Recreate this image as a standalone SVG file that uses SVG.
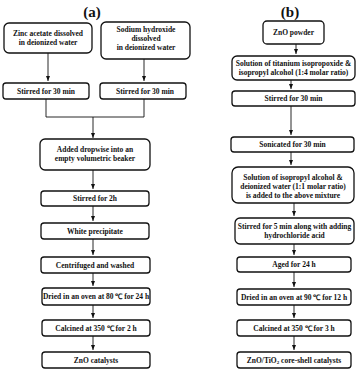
<svg xmlns="http://www.w3.org/2000/svg" width="357" height="369" viewBox="0 0 357 369">
<defs>
<style>
.b{fill:#fff;stroke:#111;stroke-width:1.3}
.t{font-family:"Liberation Serif","Times New Roman",serif;font-weight:bold;font-size:7.5px;fill:#111;text-anchor:middle}
.h{font-family:"Liberation Serif","Times New Roman",serif;font-weight:bold;font-size:15px;fill:#111;text-anchor:middle}
.c{fill:none;stroke:#111;stroke-width:0.9}
</style>
<marker id="ah" markerWidth="6" markerHeight="6" refX="5" refY="3" orient="auto" markerUnits="userSpaceOnUse">
<path d="M0,1 L5,3 L0,5 Z" fill="#111"/>
</marker>
</defs>
<rect width="357" height="369" fill="#fff"/>
<text class="h" x="92" y="17">(a)</text>
<text class="h" x="290" y="17">(b)</text>
<g id="connectors">
<line class="c" x1="48" y1="53" x2="48" y2="81" marker-end="url(#ah)"/>
<line class="c" x1="144" y1="59" x2="144" y2="81" marker-end="url(#ah)"/>
<polyline class="c" points="46,99 46,117 144,117 144,99"/>
<line class="c" x1="93" y1="117" x2="93" y2="138" marker-end="url(#ah)"/>
<line class="c" x1="93" y1="170" x2="93" y2="189" marker-end="url(#ah)"/>
<line class="c" x1="93" y1="206" x2="93" y2="221" marker-end="url(#ah)"/>
<line class="c" x1="93" y1="239" x2="93" y2="255" marker-end="url(#ah)"/>
<line class="c" x1="93" y1="273" x2="93" y2="286" marker-end="url(#ah)"/>
<line class="c" x1="93" y1="305" x2="93" y2="318" marker-end="url(#ah)"/>
<line class="c" x1="93" y1="336" x2="93" y2="350" marker-end="url(#ah)"/>
<line class="c" x1="296" y1="44" x2="296" y2="54" marker-end="url(#ah)"/>
<line class="c" x1="291" y1="80" x2="291" y2="89" marker-end="url(#ah)"/>
<line class="c" x1="291" y1="106" x2="291" y2="135" marker-end="url(#ah)"/>
<line class="c" x1="291" y1="152" x2="291" y2="165" marker-end="url(#ah)"/>
<line class="c" x1="294" y1="203" x2="294" y2="216" marker-end="url(#ah)"/>
<line class="c" x1="294" y1="244" x2="294" y2="255" marker-end="url(#ah)"/>
<line class="c" x1="294" y1="272" x2="294" y2="287" marker-end="url(#ah)"/>
<line class="c" x1="294" y1="305" x2="294" y2="318" marker-end="url(#ah)"/>
<line class="c" x1="294" y1="336" x2="294" y2="350" marker-end="url(#ah)"/>
</g>
<g id="a1"><rect class="b" x="4" y="23" width="88" height="30" rx="5"/><text class="t" x="48" y="35.5">Zinc acetate dissolved</text><text class="t" x="48" y="44.5">in deionized water</text></g>
<g id="a2"><rect class="b" x="101" y="22" width="89" height="37" rx="5"/><text class="t" x="146" y="31.5">Sodium hydroxide</text><text class="t" x="146" y="40.5">dissolved</text><text class="t" x="146" y="49.5">in deionized water</text></g>
<g id="a3"><rect class="b" x="3" y="83" width="86" height="16" rx="3"/><text class="t" x="46" y="93.8">Stirred for 30 min</text></g>
<g id="a4"><rect class="b" x="100" y="83" width="86" height="16" rx="3"/><text class="t" x="145" y="93.8">Stirred for 30 min</text></g>
<g id="a5"><rect class="b" x="40" y="139" width="110" height="31" rx="5"/><text class="t" x="95" y="152">Added dropwise into an</text><text class="t" x="95" y="161">empty volumetric beaker</text></g>
<g id="a6"><rect class="b" x="41" y="191" width="108" height="15" rx="3"/><text class="t" x="95" y="201.3">Stirred for 2h</text></g>
<g id="a7"><rect class="b" x="41" y="223" width="108" height="16" rx="3"/><text class="t" x="95" y="233.8">White precipitate</text></g>
<g id="a8"><rect class="b" x="41" y="257" width="109" height="16" rx="3"/><text class="t" x="95" y="267.8">Centrifuged and washed</text></g>
<g id="a9"><rect class="b" x="42" y="288" width="108" height="17" rx="3"/><text class="t" x="96" y="299.3">Dried in an oven at 80 ℃ for 24 h</text></g>
<g id="a10"><rect class="b" x="42" y="320" width="108" height="16" rx="3"/><text class="t" x="96" y="330.8">Calcined at 350 ℃ for 2 h</text></g>
<g id="a11"><rect class="b" x="42" y="352" width="108" height="16" rx="3"/><text class="t" x="96" y="362.8">ZnO catalysts</text></g>
<g id="b1"><rect class="b" x="263" y="21" width="61" height="23" rx="4"/><text class="t" x="293.5" y="35">ZnO powder</text></g>
<g id="b2"><rect class="b" x="232" y="56" width="123" height="24" rx="5"/><text class="t" x="293.5" y="66">Solution of titanium isopropoxide &amp;</text><text class="t" x="293.5" y="75">isopropyl alcohol (1:4 molar ratio)</text></g>
<g id="b3"><rect class="b" x="232" y="91" width="123" height="15" rx="3"/><text class="t" x="293.5" y="101.3">Stirred for 30 min</text></g>
<g id="b4"><rect class="b" x="231" y="137" width="123" height="15" rx="3"/><text class="t" x="292.5" y="147.3">Sonicated for 30 min</text></g>
<g id="b5"><rect class="b" x="232" y="167" width="122" height="36" rx="6"/><text class="t" x="293" y="179.5">Solution of isopropyl alcohol &amp;</text><text class="t" x="293" y="188.5">deionized water (1:1 molar ratio)</text><text class="t" x="293" y="197.5">is added to the above mixture</text></g>
<g id="b6"><rect class="b" x="235" y="218" width="119" height="26" rx="5"/><text class="t" x="294.5" y="229">Stirred for 5 min along with adding</text><text class="t" x="294.5" y="238">hydrochloride acid</text></g>
<g id="b7"><rect class="b" x="237" y="257" width="114" height="15" rx="3"/><text class="t" x="294" y="267.3">Aged for 24 h</text></g>
<g id="b8"><rect class="b" x="237" y="289" width="114" height="16" rx="3"/><text class="t" x="294" y="299.8">Dried in an oven at 90 ℃  for 12 h</text></g>
<g id="b9"><rect class="b" x="237" y="320" width="114" height="16" rx="3"/><text class="t" x="294" y="330.8">Calcined at 350 ℃ for 3 h</text></g>
<g id="b10"><rect class="b" x="237" y="352" width="114" height="16" rx="3"/><text class="t" x="294" y="362.8">ZnO/TiO<tspan font-size="5" dy="1.5">2</tspan><tspan dy="-1.5"> core-shell catalysts</tspan></text></g>
</svg>
